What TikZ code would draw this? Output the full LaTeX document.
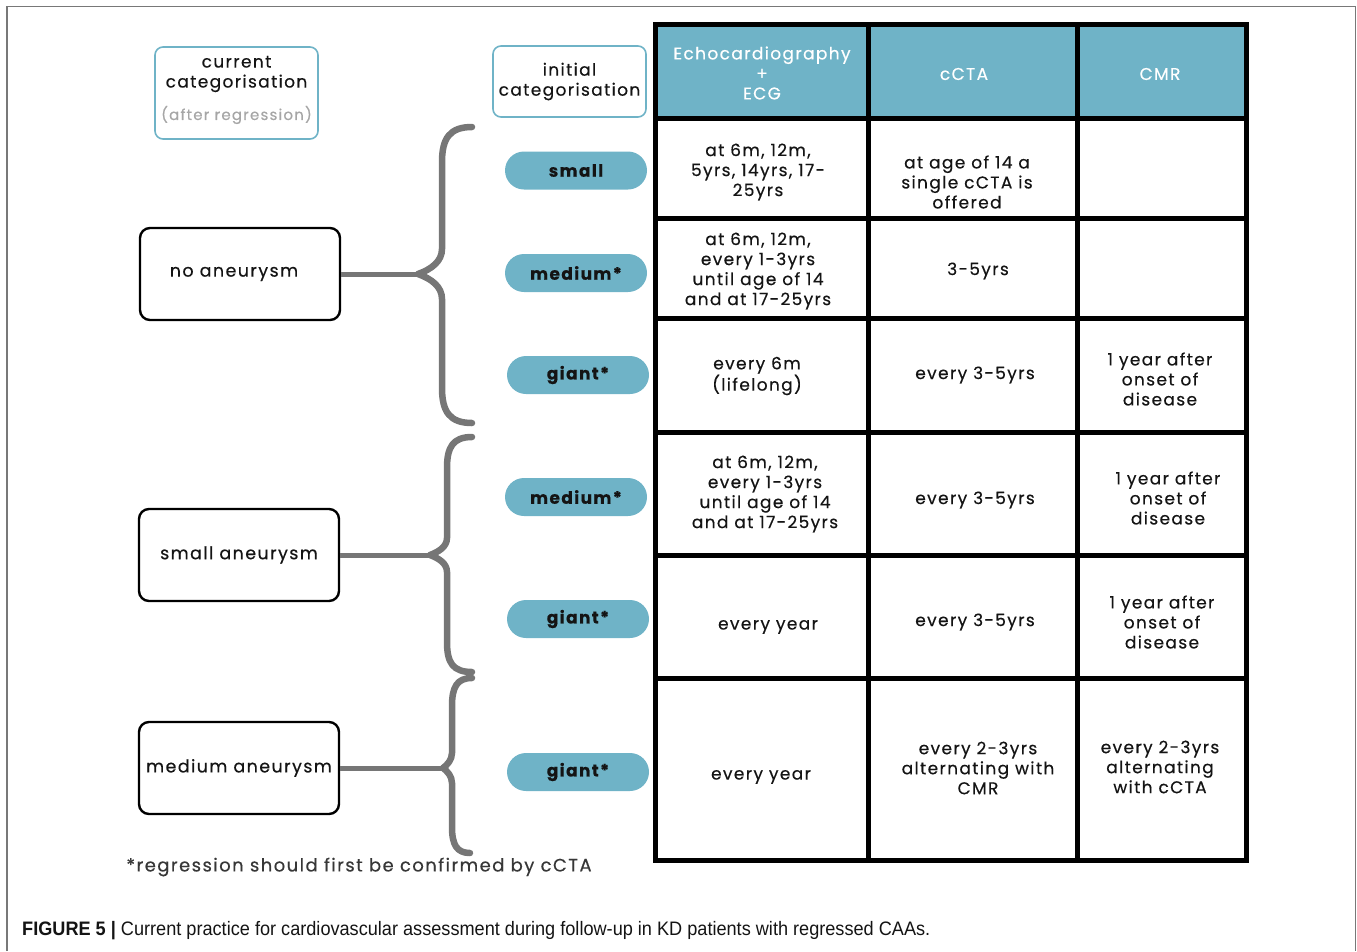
\documentclass[tikz,border=0pt]{standalone}
\usepackage{fontspec}
\setmainfont{Poppins}[LetterSpace=8,FakeBold=0.4]
\newfontfamily\capfont{Liberation Sans}[FakeStretch=0.93]
\definecolor{teal}{RGB}{111,179,199}
\definecolor{braceg}{RGB}{118,118,118}
\definecolor{framec}{RGB}{120,120,120}
\definecolor{txt}{RGB}{20,20,20}
\begin{document}
\begin{tikzpicture}[x=1pt,y=-1pt,
  cell/.style={align=center,text=txt,font=\fontsize{17}{20}\selectfont,inner sep=0pt},
  hdr/.style={align=center,text=white,font=\fontsize{17}{20}\selectfont,inner sep=0pt},
  pill/.style={fill=teal,rounded corners=19pt,minimum width=142pt,minimum height=38pt,
    inner sep=0pt,font=\fontsize{17}{20}\selectfont\bfseries,text=txt},
  catbox/.style={draw=black,line width=2.4pt,rounded corners=10pt,minimum width=200pt,
    minimum height=92pt,inner sep=0pt,font=\fontsize{17.5}{20}\selectfont,text=txt},
  keybox/.style={draw=teal,line width=1.6pt,rounded corners=8pt,inner sep=0pt,align=center,
    font=\fontsize{17}{20}\selectfont,text=txt},
  grid/.style={line width=5pt,black},
  bracestyle/.style={draw=braceg,line width=6.5pt,line cap=round,line join=round},
  link/.style={draw=braceg,line width=5pt}]
\useasboundingbox (0,0) rectangle (1357,951);
% outer frame
\draw[framec,line width=1.3pt] (7,951) -- (7,6.5) -- (1355.5,6.5) -- (1355.5,951);

% legend boxes
\node[keybox,minimum width=163pt,minimum height=92pt] (cur) at (236.5,93) {};
\node[cell] (curt) at (236.5,74) {current\\categorisation};
\node[text=gray!70,inner sep=0pt,font=\fontsize{15}{18}\selectfont] (cura) at (236.5,115) {(after regression)};
\node[keybox,minimum width=153pt,minimum height=71pt] (ini) at (569.5,81.5) {initial\\categorisation};

% table header
\fill[teal] (655,24) rectangle (1246,118);
\node[hdr] (h1) at (762,73) {Echocardiography\\+\\ECG};
\node[hdr] (h2) at (964,74) {cCTA};
\node[hdr] (h3) at (1160,74) {CMR};

% table grid
\draw[grid] (655,24) rectangle (1246,860);
\foreach \yy in {118,218,318,432,555,678} \draw[grid] (655,\yy) -- (1246,\yy);
\foreach \xx in {868,1077} \draw[grid] (\xx,24) -- (\xx,860);

% row 1
\node[cell] (r1a) at (758,172) {at 6m, 12m,\\5yrs, 14yrs, 17-\\25yrs};
\node[cell] (r1b) at (967,182) {at age of 14 a\\single cCTA is\\offered};
% row 2
\node[cell] (r2a) at (758,271) {at 6m, 12m,\\every 1-3yrs\\until age of 14\\and at 17-25yrs};
\node[cell] (r2b) at (978,271) {3-5yrs};
% row 3
\node[cell] (r3a) at (757,376) {every 6m\\(lifelong)};
\node[cell] (r3b) at (975,375) {every 3-5yrs};
\node[cell] (r3c) at (1160,379) {1 year after\\onset of\\disease};
% row 4
\node[cell] (r4a) at (765,494) {at 6m, 12m,\\every 1-3yrs\\until age of 14\\and at 17-25yrs};
\node[cell] (r4b) at (975,500) {every 3-5yrs};
\node[cell] (r4c) at (1168,498) {1 year after\\onset of\\disease};
% row 5
\node[cell] (r5a) at (768,627) {every year};
\node[cell] (r5b) at (975,622) {every 3-5yrs};
\node[cell] (r5c) at (1162,622) {1 year after\\onset of\\disease};
% row 6
\node[cell] (r6a) at (761,777) {every year};
\node[cell] (r6b) at (978,768) {every 2-3yrs\\alternating with\\CMR};
\node[cell] (r6c) at (1160,767) {every 2-3yrs\\alternating\\with cCTA};

% initial categories
\node[pill] (p1) at (576,170.5) {small};
\node[pill] (p2) at (576,273) {medium*};
\node[pill] (p3) at (578,375) {giant*};
\node[pill] (p4) at (576,497) {medium*};
\node[pill] (p5) at (578,619) {giant*};
\node[pill] (p6) at (578,772) {giant*};

% current categories
\node[catbox] (c1) at (240,274) {\hspace*{-12pt}no aneurysm};
\node[catbox] (c2) at (239,555) {small aneurysm};
\node[catbox] (c3) at (239,768) {medium aneurysm};

% braces
\coordinate (b1) at (418,274);
\coordinate (b2) at (430,555);
\coordinate (b3) at (443,768);
\draw[bracestyle] (472,127) .. controls (450,127) and (442,138) .. (442,162) -- (442,249)
  .. controls (442,261) and (432,269) .. (b1) .. controls (432,279) and (442,287) .. (442,299)
  -- (442,388) .. controls (442,412) and (450,423) .. (472,423);
\draw[bracestyle] (472,437) .. controls (453,437) and (447,447) .. (447,468) -- (447,538)
  .. controls (447,547) and (438,552) .. (b2) .. controls (438,558) and (447,563) .. (447,572)
  -- (447,642) .. controls (447,663) and (453,672) .. (472,672);
\draw[bracestyle] (472,678) .. controls (457,678) and (452,687) .. (452,706) -- (452,753)
  .. controls (452,760) and (447,765) .. (b3) .. controls (447,771) and (452,776) .. (452,783)
  -- (452,827) .. controls (452,845) and (457,853) .. (470,853);
\draw[link] (c1.east) -- (b1);
\draw[link] (c2.east) -- (b2);
\draw[link] (c3.east) -- (b3);

% footnote and caption
\node[text=txt!85,inner sep=0pt,font=\fontsize{18}{20}\selectfont] (fn) at (359,867) {*regression should first be confirmed by cCTA};
\node[anchor=west,inner sep=0pt,text=txt,font=\capfont\fontsize{19.5}{22}\selectfont] (cap) at (22,931)
  {\textbf{FIGURE 5 |} Current practice for cardiovascular assessment during follow-up in KD patients with regressed CAAs.};
\end{tikzpicture}
\end{document}
